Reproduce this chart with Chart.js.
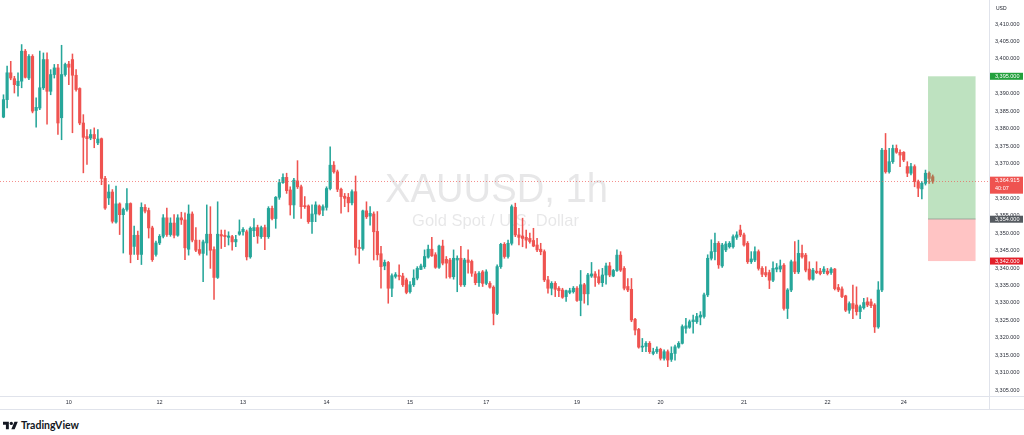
<!DOCTYPE html>
<html>
<head>
<meta charset="utf-8">
<script src="https://cdn.jsdelivr.net/npm/chart.js@4.4.1/dist/chart.umd.min.js"></script>
<style>
  html, body { margin: 0; padding: 0; background: #fff; }
  body { width: 1024px; height: 435px; overflow: hidden; font-family: "Liberation Sans", Arial, sans-serif; }
  #wrap { position: absolute; left: 0; top: 0; width: 1024px; height: 412px; }
  #brand { position: absolute; left: 3px; top: 419px; display: flex; align-items: center; gap: 3px;
           font: 700 10.5px Lato, "Liberation Sans", sans-serif; color: #131722; }
</style>
</head>
<body>
<div id="wrap"><canvas id="chart" width="1024" height="412"></canvas></div>
<div id="brand">
  <svg width="15" height="11" viewBox="0 0 36 26"><path fill="#131722" d="M14 22H7V11H0V4h14v18zM28 22h-8l7.5-18h8L28 22z"/><circle fill="#131722" cx="20" cy="8" r="4"/></svg>
  <span>TradingView</span>
</div>
<script>
/* XAUUSD 1h candles (Aug 8 -> Aug 25) */

const opens = [
  3383.3, 3388.3, 3396.0, 3394.3, 3392.3, 3393.6, 3402.2, 3394.5, 3400.7, 3385.2,
  3385.9, 3391.7, 3399.8, 3390.7, 3395.5, 3397.4, 3383.1, 3395.5, 3398.5, 3399.8,
  3395.3, 3391.5, 3381.6, 3377.7, 3377.3, 3378.3, 3375.9, 3377.1, 3365.7, 3360.1,
  3361.8, 3353.2, 3358.4, 3355.3, 3356.8, 3358.5, 3346.2, 3349.4, 3343.9, 3357.4,
  3356.5, 3351.5, 3343.9, 3347.2, 3349.1, 3354.4, 3349.6, 3352.9, 3349.4, 3354.4,
  3353.8, 3345.4, 3355.5, 3348.0, 3345.3, 3344.2, 3347.2, 3349.7, 3345.3, 3337.3,
  3349.6, 3349.4, 3348.8, 3349.0, 3347.5, 3349.7, 3350.4, 3350.4, 3343.2, 3350.7,
  3351.6, 3349.0, 3351.6, 3349.0, 3357.1, 3354.2, 3360.3, 3364.5, 3366.0, 3362.4,
  3358.1, 3365.0, 3363.3, 3357.8, 3357.8, 3353.3, 3355.5, 3357.8, 3356.6, 3357.4,
  3362.8, 3369.5, 3367.6, 3362.6, 3360.6, 3360.3, 3358.7, 3361.9, 3345.9, 3345.6,
  3356.4, 3354.9, 3355.5, 3350.5, 3344.1, 3340.6, 3341.6, 3334.2, 3337.6, 3337.9,
  3337.7, 3336.6, 3333.2, 3335.2, 3337.1, 3339.6, 3340.4, 3343.1, 3345.4, 3343.8,
  3340.2, 3346.3, 3342.5, 3342.3, 3337.5, 3342.3, 3342.8, 3335.2, 3342.3, 3341.9,
  3338.3, 3335.8, 3338.9, 3335.6, 3335.6, 3334.5, 3327.0, 3340.4, 3346.8, 3343.3,
  3347.1, 3357.4, 3349.5, 3349.2, 3348.8, 3348.5, 3347.9, 3346.6, 3345.4, 3344.7,
  3336.6, 3334.2, 3335.6, 3334.2, 3333.7, 3331.8, 3333.0, 3333.2, 3334.2, 3330.7,
  3335.2, 3332.6, 3337.7, 3338.3, 3337.5, 3335.8, 3338.0, 3340.6, 3337.7, 3339.3,
  3343.7, 3339.9, 3334.7, 3333.9, 3325.3, 3322.4, 3317.3, 3317.5, 3318.4, 3315.5,
  3316.0, 3316.7, 3314.1, 3316.0, 3313.8, 3315.5, 3317.3, 3318.4, 3322.7, 3323.0,
  3324.6, 3324.6, 3325.9, 3326.1, 3332.3, 3342.8, 3344.7, 3347.1, 3340.6, 3345.2,
  3346.1, 3346.1, 3348.8, 3350.9, 3349.5, 3347.1, 3341.8, 3342.3, 3344.7, 3339.9,
  3338.7, 3338.7, 3336.5, 3339.7, 3339.7, 3340.8, 3328.4, 3333.7, 3341.8, 3338.9,
  3344.2, 3343.7, 3339.7, 3336.8, 3339.1, 3339.1, 3338.9, 3339.1, 3338.7, 3339.7,
  3334.4, 3334.0, 3332.0, 3327.9, 3329.8, 3329.4, 3327.5, 3328.6, 3330.3, 3330.3,
  3329.4, 3323.1, 3333.7, 3373.8, 3367.6, 3370.5, 3374.3, 3373.2, 3373.2, 3369.1,
  3367.2, 3369.1, 3364.8, 3362.7, 3364.3, 3367.2, 3366.2
];
const highs = [
  3389.7, 3397.9, 3399.3, 3395.0, 3396.0, 3404.1, 3402.7, 3401.2, 3401.2, 3388.8,
  3402.2, 3401.7, 3401.7, 3396.9, 3398.4, 3398.4, 3403.9, 3398.8, 3399.3, 3401.4,
  3396.9, 3391.7, 3384.0, 3379.7, 3379.7, 3380.2, 3379.7, 3377.3, 3366.3, 3363.9,
  3362.5, 3363.5, 3358.7, 3357.2, 3362.8, 3358.7, 3352.0, 3350.6, 3358.7, 3358.2,
  3357.2, 3352.0, 3347.7, 3349.6, 3355.3, 3357.2, 3354.4, 3355.3, 3355.3, 3356.0,
  3355.8, 3358.1, 3356.1, 3351.6, 3348.0, 3348.0, 3358.1, 3357.6, 3346.1, 3359.0,
  3350.9, 3350.9, 3350.4, 3349.4, 3349.4, 3353.8, 3351.6, 3350.9, 3351.8, 3354.2,
  3352.3, 3352.0, 3352.3, 3357.6, 3357.8, 3360.5, 3365.4, 3367.0, 3367.2, 3363.3,
  3365.7, 3370.8, 3363.8, 3360.5, 3358.1, 3358.1, 3359.0, 3358.1, 3358.1, 3363.3,
  3374.8, 3370.5, 3368.1, 3362.9, 3361.4, 3361.4, 3362.4, 3366.4, 3348.0, 3356.6,
  3359.0, 3357.6, 3356.1, 3356.2, 3346.2, 3342.3, 3341.9, 3338.3, 3338.7, 3340.9,
  3338.5, 3337.1, 3336.1, 3339.5, 3340.4, 3341.1, 3345.2, 3346.6, 3348.8, 3344.4,
  3346.6, 3348.0, 3343.3, 3342.8, 3345.2, 3343.5, 3346.2, 3342.8, 3345.2, 3342.3,
  3339.0, 3339.0, 3339.3, 3339.5, 3336.1, 3334.9, 3340.9, 3347.1, 3347.3, 3348.0,
  3358.1, 3358.6, 3351.4, 3354.3, 3350.9, 3350.0, 3351.4, 3348.5, 3347.1, 3345.2,
  3337.6, 3336.1, 3336.1, 3334.7, 3334.2, 3333.7, 3334.2, 3334.7, 3334.7, 3339.3,
  3335.6, 3338.5, 3341.6, 3339.0, 3339.5, 3339.9, 3341.4, 3341.6, 3339.6, 3345.2,
  3344.7, 3340.4, 3337.0, 3337.0, 3325.6, 3322.7, 3319.8, 3318.9, 3318.9, 3317.0,
  3317.4, 3317.0, 3316.5, 3316.5, 3317.4, 3317.9, 3318.9, 3323.7, 3325.6, 3325.1,
  3326.5, 3327.0, 3327.5, 3332.8, 3343.8, 3348.1, 3350.0, 3347.6, 3347.1, 3347.6,
  3347.6, 3349.5, 3350.4, 3352.3, 3350.0, 3347.6, 3344.7, 3346.1, 3345.2, 3340.4,
  3340.4, 3339.4, 3341.8, 3341.3, 3342.3, 3341.3, 3334.1, 3342.3, 3347.6, 3348.0,
  3346.6, 3344.2, 3341.8, 3339.9, 3341.8, 3339.9, 3340.4, 3339.9, 3340.1, 3339.9,
  3335.3, 3334.6, 3332.2, 3330.3, 3335.1, 3334.6, 3329.4, 3331.3, 3331.5, 3331.1,
  3329.8, 3336.1, 3374.3, 3378.6, 3374.3, 3375.3, 3375.3, 3373.9, 3373.4, 3370.5,
  3370.0, 3369.6, 3365.2, 3364.8, 3368.1, 3367.6, 3366.7
];
const lows = [
  3383.1, 3385.9, 3394.0, 3390.2, 3389.3, 3391.7, 3394.5, 3394.0, 3384.5, 3380.4,
  3385.4, 3391.2, 3381.3, 3389.7, 3394.5, 3378.3, 3376.8, 3395.0, 3392.6, 3378.8,
  3390.7, 3381.1, 3367.3, 3369.7, 3376.8, 3374.5, 3375.4, 3363.9, 3356.8, 3358.2,
  3352.9, 3352.9, 3349.6, 3344.3, 3356.3, 3341.5, 3343.9, 3342.4, 3341.0, 3355.8,
  3348.6, 3341.9, 3343.4, 3346.7, 3348.6, 3349.1, 3349.1, 3348.6, 3349.1, 3352.5,
  3342.4, 3343.7, 3347.5, 3344.7, 3343.7, 3336.1, 3343.7, 3339.9, 3331.0, 3337.0,
  3345.6, 3346.1, 3346.6, 3345.1, 3346.1, 3349.4, 3349.4, 3342.3, 3342.8, 3349.0,
  3347.1, 3348.5, 3345.3, 3348.5, 3353.8, 3351.4, 3359.7, 3364.3, 3361.4, 3355.2,
  3354.2, 3362.8, 3354.2, 3357.1, 3352.8, 3349.9, 3353.3, 3355.2, 3355.0, 3356.6,
  3362.4, 3367.2, 3361.9, 3355.7, 3357.6, 3356.1, 3358.1, 3343.7, 3341.3, 3345.1,
  3354.2, 3352.3, 3342.3, 3342.3, 3334.2, 3339.5, 3329.9, 3331.8, 3337.1, 3336.6,
  3334.7, 3332.6, 3332.8, 3334.7, 3336.6, 3339.5, 3339.9, 3342.8, 3343.3, 3339.9,
  3339.9, 3340.9, 3337.1, 3337.1, 3336.8, 3333.2, 3334.7, 3334.7, 3338.5, 3337.6,
  3335.2, 3334.7, 3334.7, 3335.2, 3334.2, 3323.7, 3326.6, 3339.9, 3342.8, 3342.8,
  3346.6, 3349.0, 3346.6, 3346.1, 3345.7, 3347.1, 3346.1, 3344.7, 3343.8, 3336.1,
  3332.8, 3332.3, 3331.8, 3331.8, 3331.3, 3330.4, 3332.6, 3332.8, 3330.4, 3326.3,
  3329.9, 3329.4, 3337.3, 3334.7, 3335.4, 3334.7, 3335.4, 3337.5, 3337.5, 3339.0,
  3339.0, 3333.7, 3333.2, 3324.6, 3320.8, 3317.0, 3316.0, 3316.0, 3315.5, 3315.1,
  3315.5, 3313.6, 3313.6, 3311.7, 3313.2, 3313.6, 3317.0, 3318.2, 3321.3, 3322.7,
  3321.3, 3324.1, 3323.7, 3325.6, 3331.8, 3342.3, 3342.3, 3339.9, 3340.2, 3344.7,
  3345.7, 3345.7, 3348.2, 3349.0, 3346.3, 3341.3, 3341.3, 3341.8, 3339.4, 3337.5,
  3337.5, 3334.1, 3336.1, 3338.9, 3338.9, 3327.9, 3325.5, 3333.2, 3338.4, 3338.4,
  3342.8, 3338.9, 3336.5, 3336.5, 3338.4, 3338.0, 3338.4, 3338.0, 3338.2, 3333.7,
  3333.2, 3331.5, 3327.5, 3327.0, 3325.5, 3326.5, 3325.5, 3328.2, 3328.9, 3328.6,
  3321.5, 3322.7, 3333.2, 3367.2, 3367.2, 3370.0, 3372.9, 3369.1, 3370.5, 3366.2,
  3366.7, 3363.3, 3360.5, 3359.8, 3363.8, 3364.3, 3364.3
];
const closes = [
  3388.3, 3396.0, 3394.5, 3392.6, 3393.6, 3402.2, 3394.7, 3400.7, 3385.0, 3386.1,
  3391.7, 3399.8, 3390.7, 3395.5, 3397.4, 3381.6, 3395.5, 3398.4, 3397.6, 3395.3,
  3391.2, 3381.6, 3377.5, 3377.1, 3378.3, 3377.1, 3377.0, 3365.7, 3357.2, 3361.8,
  3353.4, 3358.4, 3355.3, 3356.8, 3358.5, 3343.9, 3349.4, 3343.9, 3357.4, 3356.3,
  3351.5, 3342.4, 3347.2, 3349.1, 3354.4, 3349.6, 3352.9, 3349.4, 3354.4, 3353.8,
  3345.8, 3355.5, 3348.0, 3345.1, 3344.2, 3347.5, 3349.7, 3345.1, 3337.3, 3349.7,
  3349.2, 3349.0, 3349.2, 3347.5, 3348.2, 3350.4, 3351.1, 3343.2, 3351.4, 3351.6,
  3349.2, 3351.6, 3349.0, 3357.1, 3354.2, 3360.3, 3364.5, 3366.0, 3362.2, 3358.1,
  3365.2, 3363.3, 3357.6, 3357.6, 3353.3, 3355.5, 3358.1, 3355.5, 3357.6, 3362.8,
  3369.5, 3367.6, 3362.6, 3360.5, 3360.0, 3358.7, 3361.9, 3345.9, 3345.6, 3356.4,
  3354.7, 3355.7, 3350.4, 3343.8, 3340.4, 3341.6, 3334.2, 3337.8, 3338.1, 3337.6,
  3335.2, 3333.0, 3335.2, 3337.1, 3339.9, 3340.6, 3343.3, 3345.4, 3343.5, 3340.2,
  3346.3, 3341.4, 3341.4, 3337.5, 3342.8, 3342.8, 3335.2, 3342.3, 3341.6, 3338.5,
  3335.8, 3338.5, 3335.6, 3338.9, 3334.5, 3327.0, 3340.4, 3346.8, 3343.3, 3347.1,
  3357.6, 3349.5, 3348.8, 3348.5, 3348.0, 3347.6, 3346.3, 3345.2, 3344.7, 3336.6,
  3334.2, 3335.6, 3333.9, 3333.5, 3331.6, 3333.5, 3333.5, 3334.2, 3330.7, 3335.2,
  3332.6, 3338.0, 3338.3, 3337.3, 3335.8, 3338.0, 3340.6, 3338.0, 3339.3, 3343.7,
  3339.4, 3334.2, 3333.7, 3325.1, 3322.2, 3317.3, 3317.6, 3318.4, 3316.0, 3316.0,
  3316.7, 3314.1, 3316.0, 3313.6, 3315.5, 3317.4, 3318.4, 3323.2, 3323.4, 3324.6,
  3325.1, 3326.1, 3326.5, 3332.3, 3342.8, 3344.7, 3347.1, 3340.9, 3346.6, 3346.9,
  3347.1, 3349.0, 3349.5, 3349.5, 3346.6, 3341.8, 3342.6, 3344.7, 3339.9, 3338.2,
  3338.0, 3336.5, 3339.9, 3340.1, 3340.6, 3328.4, 3333.7, 3341.8, 3338.9, 3344.2,
  3343.2, 3339.4, 3336.8, 3339.4, 3338.7, 3338.4, 3339.7, 3338.4, 3339.7, 3334.1,
  3333.7, 3331.8, 3327.9, 3329.8, 3328.4, 3327.5, 3328.9, 3330.1, 3329.4, 3329.2,
  3323.1, 3333.7, 3373.8, 3367.6, 3370.5, 3374.3, 3373.2, 3372.4, 3371.0, 3367.2,
  3369.1, 3364.8, 3362.9, 3364.3, 3367.2, 3365.7, 3364.915
];

// time axis: candle index of each day label
const tickIndex  = [18, 43, 66, 89, 112, 133, 158, 181, 204, 227, 248];
const tickLabels = ['10', '12', '13', '14', '15', '17', '19', '20', '21', '22', '24'];

// price axis labels
const priceTicks = [3305, 3310, 3315, 3320, 3325, 3330, 3335, 3340, 3345, 3350, 3355,
                    3360, 3365, 3370, 3375, 3380, 3385, 3390, 3395, 3400, 3405, 3410];

// long position drawing (prices, and candle index span)
const entryPrice = 3354;
const targetPrice = 3395;
const stopPrice = 3342;
const positionFrom = 254.7;
const positionTo = 267.8;
const countdown = '40:07';

const UP = '#26a69a';
const DOWN = '#ef5350';
const FONT = '"Liberation Sans", Arial, sans-serif';

const fmt = v => v.toLocaleString('en-US', { minimumFractionDigits: 3, maximumFractionDigits: 3 });
const candleColors = opens.map((o, i) => closes[i] >= o ? UP : DOWN);

const overlay = {
  id: 'overlay',
  beforeDatasetsDraw(chart) {
    const { ctx, chartArea: a } = chart;
    const cx = (a.left + a.right) / 2, cy = (a.top + a.bottom) / 2;
    ctx.save();
    ctx.fillStyle = 'rgba(19,23,34,0.10)';
    ctx.textAlign = 'center';
    ctx.textBaseline = 'alphabetic';
    ctx.font = '40px ' + FONT;
    ctx.fillText('XAUUSD, 1h', cx + 2, cy + 3, 223);
    ctx.font = '16.5px ' + FONT;
    ctx.fillText('Gold Spot / U.S. Dollar', cx + 1, cy + 27, 177);
    ctx.restore();
  },
  afterDatasetsDraw(chart) {
    const { ctx, chartArea: a, scales: { x, y } } = chart;
    ctx.save();
    ctx.beginPath();
    ctx.rect(a.left, a.top, a.right - a.left, a.bottom - a.top);
    ctx.clip();
    const x0 = x.getPixelForValue(positionFrom), x1 = x.getPixelForValue(positionTo);
    const yT = y.getPixelForValue(targetPrice), yE = y.getPixelForValue(entryPrice), yS = y.getPixelForValue(stopPrice);
    ctx.fillStyle = 'rgba(76,175,80,0.36)';
    ctx.fillRect(x0, yT, x1 - x0, yE - yT);
    ctx.fillStyle = 'rgba(255,82,82,0.34)';
    ctx.fillRect(x0, yE, x1 - x0, yS - yE);
    ctx.fillStyle = 'rgba(120,120,120,0.55)';
    ctx.fillRect(x0, Math.round(yE) - 0.5, x1 - x0, 1);
    // last price dotted line
    const yP = Math.round(y.getPixelForValue(closes[closes.length - 1])) + 0.5;
    ctx.strokeStyle = 'rgba(239,83,80,0.65)';
    ctx.lineWidth = 1;
    ctx.setLineDash([1, 2]);
    ctx.beginPath();
    ctx.moveTo(a.left, yP);
    ctx.lineTo(a.right, yP);
    ctx.stroke();
    ctx.restore();
  },
  afterDraw(chart) {
    const { ctx, chartArea: a, scales: { y } } = chart;
    ctx.save();
    // pane borders
    ctx.fillStyle = '#e0e3eb';
    ctx.fillRect(a.right, 0, 1, 410);
    ctx.fillRect(0, a.bottom, 1024, 1);
    ctx.fillRect(0, 409, 1024, 1);
    // currency
    ctx.fillStyle = '#131722';
    ctx.font = '5px ' + FONT;
    ctx.textBaseline = 'middle';
    ctx.textAlign = 'left';
    ctx.fillText('USD', a.right + 7, 9);
    // price tags on the axis
    const tag = (price, color, text, sub) => {
      const py = y.getPixelForValue(price);
      const h = sub ? 17 : 7;
      const top = sub ? py - 4.5 : py - 3.5;
      ctx.fillStyle = color;
      ctx.fillRect(a.right + 1, top, 1024 - a.right - 2, h);
      ctx.fillStyle = '#fff';
      ctx.font = '5.5px ' + FONT;
      ctx.fillText(text, a.right + 6, top + 3.8);
      if (sub) ctx.fillText(sub, a.right + 6, top + 11.8);
    };
    tag(targetPrice, '#22a03c', fmt(targetPrice));
    tag(entryPrice, '#555a60', fmt(entryPrice));
    tag(stopPrice, '#e3202a', fmt(stopPrice));
    tag(closes[closes.length - 1], '#ef5350', fmt(closes[closes.length - 1]), countdown);
    ctx.restore();
  }
};

new Chart(document.getElementById('chart'), {
  type: 'bar',
  data: {
    datasets: [
      {
        label: 'body',
        data: opens.map((o, i) => ({ x: i, y: [o, closes[i]] })),
        backgroundColor: candleColors,
        barThickness: 2.5,
        minBarLength: 1,
        grouped: false,
        borderWidth: 0,
        order: 0
      },
      {
        label: 'wick',
        data: opens.map((o, i) => ({ x: i, y: [lows[i], highs[i]] })),
        backgroundColor: candleColors,
        barThickness: 0.9,
        grouped: false,
        borderWidth: 0,
        order: 1
      }
    ]
  },
  options: {
    responsive: false,
    animation: false,
    events: [],
    layout: { padding: { top: 2, bottom: 2, left: 0, right: 0 } },
    plugins: { legend: { display: false }, tooltip: { enabled: false } },
    scales: {
      x: {
        type: 'linear',
        offset: false,
        min: -0.96,
        max: 271.5,
        grid: { display: false, drawTicks: false },
        border: { display: false },
        afterBuildTicks: s => { s.ticks = tickIndex.map(v => ({ value: v })); },
        afterFit: s => { s.height = 14; s.paddingLeft = 0; s.paddingRight = 0; },
        ticks: {
          autoSkip: false, maxRotation: 0, padding: 3, color: '#2a2e39',
          font: { family: FONT, size: 5.5 },
          callback: (v, i) => tickLabels[i]
        }
      },
      y: {
        position: 'right',
        min: 3303.29,
        max: 3416.31,
        grid: { display: false, drawTicks: false },
        border: { display: false },
        afterBuildTicks: s => { s.ticks = priceTicks.map(v => ({ value: v })); },
        afterFit: s => { s.width = 35; s.paddingTop = 0; s.paddingBottom = 0; },
        ticks: {
          padding: 6, crossAlign: 'near', color: '#2a2e39',
          font: { family: FONT, size: 5.5 },
          callback: v => fmt(v)
        }
      }
    }
  },
  plugins: [overlay]
});
</script>
</body>
</html>
